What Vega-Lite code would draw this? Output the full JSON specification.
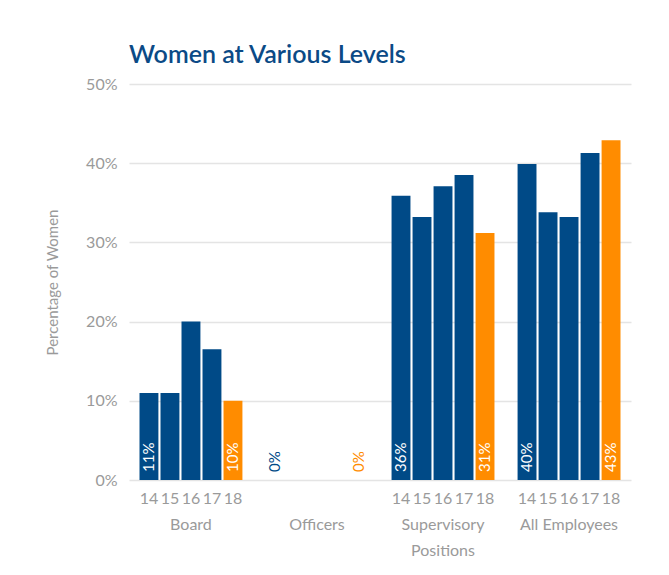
{
  "$schema": "https://vega.github.io/schema/vega-lite/v6.json",
  "width": 502,
  "height": 396,
  "autosize": "none",
  "padding": {"left": 129, "top": 84, "right": 38, "bottom": 95},
  "background": "white",
  "title": {
    "text": "Women at Various Levels",
    "anchor": "start",
    "frame": "group",
    "font": "Lato",
    "fontSize": 25,
    "fontWeight": 600,
    "color": "#0b4a86",
    "baseline": "alphabetic",
    "offset": -12
  },
  "data": {
    "values": [
      {"group": "Board", "year": "14", "value": 11, "label": "11%"},
      {"group": "Board", "year": "15", "value": 11, "label": ""},
      {"group": "Board", "year": "16", "value": 20, "label": ""},
      {"group": "Board", "year": "17", "value": 16.5, "label": ""},
      {"group": "Board", "year": "18", "value": 10, "label": "10%"},
      {"group": "Officers", "year": "14", "value": 0, "label": "0%"},
      {"group": "Officers", "year": "15", "value": 0, "label": ""},
      {"group": "Officers", "year": "16", "value": 0, "label": ""},
      {"group": "Officers", "year": "17", "value": 0, "label": ""},
      {"group": "Officers", "year": "18", "value": 0, "label": "0%"},
      {"group": "Supervisory Positions", "year": "14", "value": 35.9, "label": "36%"},
      {"group": "Supervisory Positions", "year": "15", "value": 33.2, "label": ""},
      {"group": "Supervisory Positions", "year": "16", "value": 37.1, "label": ""},
      {"group": "Supervisory Positions", "year": "17", "value": 38.5, "label": ""},
      {"group": "Supervisory Positions", "year": "18", "value": 31.2, "label": "31%"},
      {"group": "All Employees", "year": "14", "value": 39.9, "label": "40%"},
      {"group": "All Employees", "year": "15", "value": 33.8, "label": ""},
      {"group": "All Employees", "year": "16", "value": 33.2, "label": ""},
      {"group": "All Employees", "year": "17", "value": 41.3, "label": ""},
      {"group": "All Employees", "year": "18", "value": 42.9, "label": "43%"}
    ]
  },
  "transform": [
    {"calculate": "datum.group + '|' + datum.year", "as": "key"}
  ],
  "encoding": {
    "x": {
      "field": "key",
      "type": "nominal",
      "sort": null,
      "scale": {
        "domain": [
          "Board|14", "Board|15", "Board|16", "Board|17", "Board|18", "gap1",
          "Officers|14", "Officers|15", "Officers|16", "Officers|17", "Officers|18", "gap2",
          "Supervisory Positions|14", "Supervisory Positions|15", "Supervisory Positions|16", "Supervisory Positions|17", "Supervisory Positions|18", "gap3",
          "All Employees|14", "All Employees|15", "All Employees|16", "All Employees|17", "All Employees|18"
        ],
        "paddingInner": 0.1,
        "paddingOuter": 0.5
      },
      "axis": {
        "title": null,
        "domain": false,
        "ticks": false,
        "labelAngle": 0,
        "labelOverlap": false,
        "labelBound": false,
        "labelPadding": 10,
        "labelFont": "Lato",
        "labelFontSize": 16,
        "labelColor": "#9a9a9a",
        "labelLineHeight": 26,
        "labelExpr": "indexof(datum.value,'|') < 0 ? '' : (split(datum.value,'|')[1] == '16' ? (split(datum.value,'|')[0] == 'Supervisory Positions' ? ['16','Supervisory','Positions'] : (split(datum.value,'|')[0] == 'Officers' ? [' ','Officers'] : ['16', split(datum.value,'|')[0]])) : (split(datum.value,'|')[0] == 'Officers' ? '' : split(datum.value,'|')[1]))"
      }
    }
  },
  "layer": [
    {
      "mark": {"type": "bar"},
      "encoding": {
        "y": {
          "field": "value",
          "type": "quantitative",
          "scale": {"domain": [0, 50]},
          "axis": {
            "title": "Percentage of Women",
            "titleFont": "Lato",
            "titleFontSize": 15,
            "titleFontWeight": "normal",
            "titleColor": "#9a9a9a",
            "titlePadding": 25,
            "values": [0, 10, 20, 30, 40, 50],
            "labelExpr": "datum.value + '%'",
            "labelFont": "Lato",
            "labelFontSize": 16,
            "labelColor": "#9a9a9a",
            "labelPadding": 12,
            "domain": false,
            "ticks": false,
            "grid": true,
            "gridColor": "#e4e4e4",
            "gridWidth": 1.5
          }
        },
        "color": {
          "field": "year",
          "type": "nominal",
          "scale": {"domain": ["14", "15", "16", "17", "18"], "range": ["#004a87", "#004a87", "#004a87", "#004a87", "#ff8c00"]},
          "legend": null
        }
      }
    },
    {
      "mark": {"type": "text", "angle": 270, "align": "left", "baseline": "middle", "dx": 8, "font": "Lato", "fontSize": 15},
      "encoding": {
        "y": {"datum": 0, "type": "quantitative"},
        "text": {"field": "label"},
        "color": {
          "condition": {"test": "datum.value > 0", "value": "white"},
          "field": "year",
          "type": "nominal",
          "scale": {"domain": ["14", "15", "16", "17", "18"], "range": ["#004a87", "#004a87", "#004a87", "#004a87", "#ff8c00"]},
          "legend": null
        }
      }
    }
  ],
  "config": {"view": {"stroke": null}}
}
